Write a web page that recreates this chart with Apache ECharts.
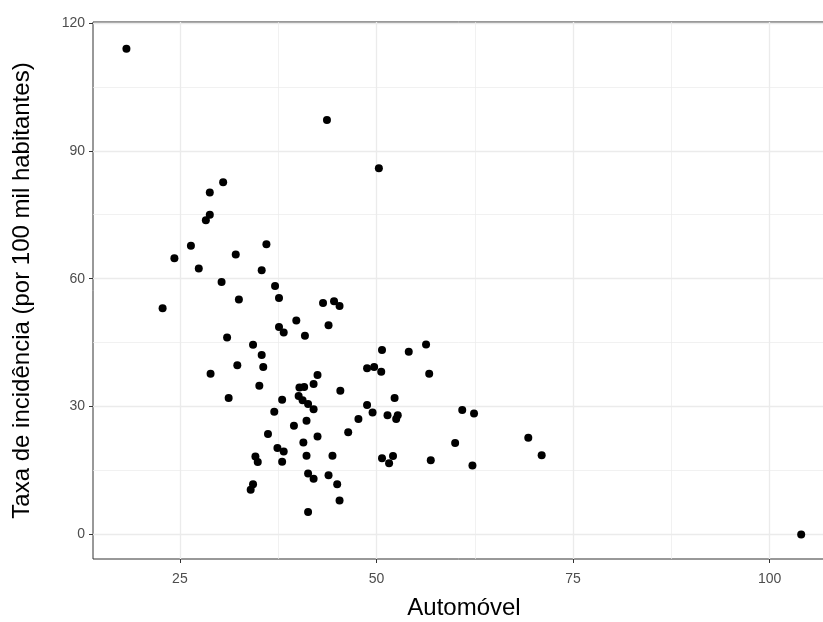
<!DOCTYPE html>
<html>
<head>
<meta charset="utf-8">
<script src="https://cdn.jsdelivr.net/npm/echarts@6/dist/echarts.min.js"></script>
<style>
  html, body { margin: 0; padding: 0; background: #ffffff; }
  #chart { width: 823px; height: 622px; }
</style>
</head>
<body>
<div id="chart"></div>
<script>
// Automóvel share vs. incidence rate, one point per record
const automovel = [
  18.2, 43.7, 50.3, 30.5, 28.8, 28.8, 28.3, 26.4, 24.3, 27.4,
  36.0, 32.1, 35.4, 30.3, 37.1, 37.6, 32.5, 22.8, 43.2, 44.6,
  45.3, 39.8, 37.6, 38.2, 43.9, 40.9, 31.0, 34.3, 35.4, 35.6,
  32.3, 28.9, 42.5, 35.1, 31.2, 42.0, 40.2, 40.8, 40.1, 40.6,
  41.3, 42.0, 38.0, 37.0, 45.4, 48.8, 49.7, 50.6, 52.3, 48.8,
  49.5, 51.4, 52.7, 52.5, 47.7, 46.4, 41.1, 39.5, 36.2, 42.5,
  40.7, 37.4, 38.2, 34.6, 34.9, 38.0, 41.1, 44.4, 41.3, 42.0,
  43.9, 45.0, 45.3, 34.3, 34.0, 41.3, 54.1, 50.7, 56.3, 56.7,
  60.9, 62.4, 60.0, 69.3, 71.0, 50.7, 52.1, 51.6, 56.9, 62.2,
  104.0
];
const taxa = [
  113.9, 97.2, 85.9, 82.6, 80.2, 75.0, 73.7, 67.7, 64.8, 62.4,
  68.1, 65.7, 62.0, 59.2, 58.3, 55.5, 55.1, 53.1, 54.3, 54.7,
  53.6, 50.2, 48.7, 47.4, 49.1, 46.6, 46.2, 44.5, 42.1, 39.3,
  39.7, 37.7, 37.4, 34.9, 32.0, 35.3, 34.5, 34.6, 32.5, 31.5,
  30.6, 29.4, 31.6, 28.8, 33.7, 39.0, 39.3, 38.2, 32.0, 30.4,
  28.6, 28.0, 28.0, 27.1, 27.1, 24.0, 26.7, 25.5, 23.6, 23.0,
  21.6, 20.3, 19.5, 18.3, 17.0, 17.1, 18.5, 18.5, 14.3, 13.1,
  13.9, 11.8, 8.0, 11.8, 10.5, 5.3, 42.9, 43.3, 44.6, 37.7,
  29.2, 28.4, 21.5, 22.7, 18.6, 17.9, 18.4, 16.7, 17.4, 16.2,
  0.0
];

const xTicks = [25, 50, 75, 100];
const xMinorTicks = [37.5, 62.5, 87.5];
const yTicks = [0, 30, 60, 90, 120];
const yMinorTicks = [15, 45, 75, 105];

// padded ranges (5% each side of the data extent)
const xRange = [13.95, 108.3];
const yRange = [-5.73, 120.2];

const points = automovel.map((x, i) => [x, taxa[i]]);

const FONT = '"Liberation Sans", Arial, sans-serif';
const GRID_COLOR = '#ebebeb';
const INK = '#333333';

function mainAxis(range, ticks, labelMargin, extra) {
  return Object.assign({
    type: 'value',
    min: range[0],
    max: range[1],
    axisLine: { show: false, onZero: false },
    axisTick: { show: true, length: 4, customValues: ticks, lineStyle: { color: INK, width: 1 } },
    axisLabel: {
      customValues: ticks, color: '#4d4d4d', fontFamily: FONT, fontSize: 14, margin: labelMargin
    },
    splitLine: { show: true, lineStyle: { color: GRID_COLOR, width: 1.3 } },
    nameTextStyle: { color: '#000000', fontFamily: FONT, fontSize: 24 }
  }, extra);
}

function minorAxis(range, ticks, extra) {
  return Object.assign({
    type: 'value',
    min: range[0],
    max: range[1],
    axisLine: { show: false, onZero: false },
    axisTick: { show: false, customValues: ticks },
    axisLabel: { show: false, customValues: ticks },
    splitLine: { show: true, lineStyle: { color: GRID_COLOR, width: 0.7 } }
  }, extra);
}

const chart = echarts.init(document.getElementById('chart'), null, { renderer: 'canvas' });
chart.setOption({
  animation: false,
  backgroundColor: '#ffffff',
  grid: {
    left: 93, top: 22, right: -12, bottom: 63,
    outerBoundsMode: 'none',
    containLabel: false,
    show: true, borderColor: INK, borderWidth: 1, backgroundColor: 'transparent'
  },
  xAxis: [
    mainAxis(xRange, xTicks, 13, { name: 'Automóvel', nameLocation: 'middle', nameGap: 37 }),
    minorAxis(xRange, xMinorTicks, { position: 'bottom' })
  ],
  yAxis: [
    mainAxis(yRange, yTicks, 8, {
      name: 'Taxa de incidência (por 100 mil habitantes)', nameLocation: 'middle', nameGap: 59
    }),
    minorAxis(yRange, yMinorTicks, { position: 'left' })
  ],
  series: [{
    type: 'scatter',
    xAxisIndex: 0,
    yAxisIndex: 0,
    data: points,
    symbol: 'circle',
    symbolSize: 8,
    itemStyle: { color: '#000000', opacity: 1 },
    z: 5
  }]
});
</script>
</body>
</html>
